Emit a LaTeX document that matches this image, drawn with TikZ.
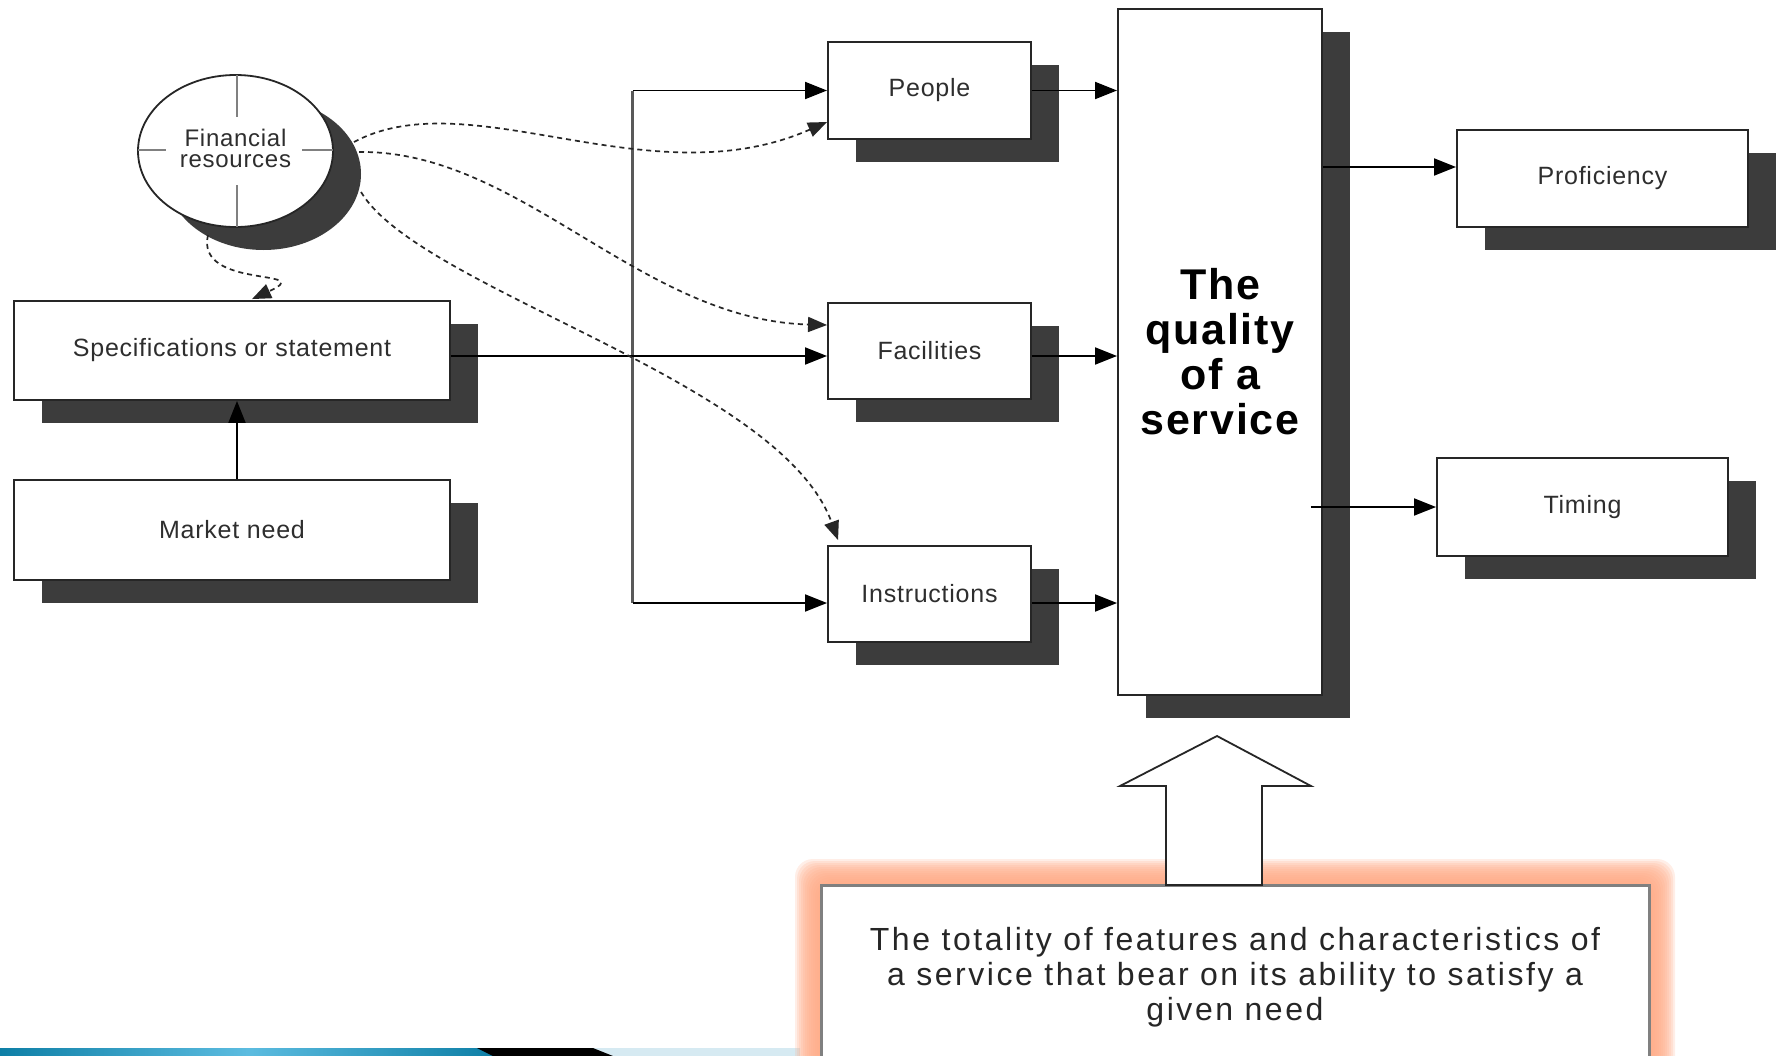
\documentclass[tikz,border=0pt]{standalone}
\usepackage{fontspec}
\setmainfont{Liberation Sans}
\newfontfamily\lblfont[LetterSpace=3]{Liberation Sans}
\newfontfamily\bigfont[LetterSpace=4]{Liberation Sans}
\newfontfamily\notefont[LetterSpace=8]{Liberation Sans}
\usetikzlibrary{arrows.meta,shapes.geometric,shadows,calc}
\definecolor{shd}{HTML}{3C3C3C}
\definecolor{txt}{HTML}{2E2E2E}
\definecolor{glow}{RGB}{255,172,135}
\definecolor{tealA}{HTML}{0E7FA6}
\definecolor{tealB}{HTML}{5CBCE0}
\definecolor{pale}{RGB}{214,234,242}
\tikzset{
  sbox/.style={draw=black!85, line width=1.9pt, fill=white, rectangle, inner sep=0pt,
    align=center, text=txt, font=\lblfont\fontsize{25}{28}\selectfont,
    general shadow={shadow xshift=28pt, shadow yshift=-23pt, fill=shd}},
  arr/.style={-{Triangle[length=22pt,width=17pt]}, line width=1.9pt, draw=black},
  darr/.style={-{Triangle[length=19pt,width=15pt]}, line width=1.7pt, draw=black!85,
    dash pattern=on 5pt off 4pt},
  cross/.style={draw=black!50, line width=1.3pt}
}
\begin{document}
\begin{tikzpicture}[x=1pt,y=-1pt]
\useasboundingbox (0,0) rectangle (1783,1055);
\clip (0,0) rectangle (1783,1055);
\fill[white] (0,0) rectangle (1783,1055);

% footer strip
\shade[left color=tealA, right color=tealA, middle color=tealB] (0,1048) rectangle (495,1056);
\fill[pale] (593,1048) -- (800,1048) -- (800,1056) -- (613,1056) -- cycle;
\fill[black] (477,1048) -- (593,1048) -- (613,1056) -- (493,1056) -- cycle;

% glow and bottom box
\foreach \i in {1,...,13} {
  \fill[glow, opacity=0.2, rounded corners=18pt] ({821-2*\i},{885-2*\i}) rectangle ({1649+2*\i},1120);
}
\node[draw=black!50, line width=3pt, fill=white, minimum width=828pt, minimum height=235pt, inner sep=0pt] (note) at (1235,1002.5) {};
\node[align=center, text=black!85, font=\notefont\fontsize{32}{35}\selectfont] (notetxt) at (1235,977)
  {The totality of features and characteristics of\\a service that bear on its ability to satisfy a\\given need};

% hollow block arrow
\draw[line width=1.8pt, draw=black!85, fill=white] (1217,736) -- (1311,786) -- (1262,786) -- (1262,885)
  -- (1166,885) -- (1166,786) -- (1120,786) -- cycle;

% nodes
\node[ellipse, draw=black!85, line width=1.8pt, fill=white, minimum width=195pt, minimum height=152pt,
  inner sep=0pt, general shadow={shadow xshift=28pt, shadow yshift=-23pt, fill=shd}] (fin) at (235.5,151) {};
\draw[cross] (237,75) -- (237,117);
\draw[cross] (237,185) -- (237,227);
\draw[cross] (138,150) -- (166,150);
\draw[cross] (302,150) -- (333,150);
\node[align=center, text=txt, font=\lblfont\fontsize{24}{21}\selectfont] (fintxt) at (235.5,148) {Financial\\resources};

\node[sbox, minimum width=436pt, minimum height=99pt] (spec) at (232,350.5) {Specifications or statement};
\node[sbox, minimum width=436pt, minimum height=100pt] (market) at (232,530) {Market need};
\node[sbox, minimum width=203pt, minimum height=97pt] (people) at (929.5,90.5) {People};
\node[sbox, minimum width=203pt, minimum height=96pt] (fac) at (929.5,351) {Facilities};
\node[sbox, minimum width=203pt, minimum height=96pt] (inst) at (929.5,594) {Instructions};
\node[sbox, minimum width=204pt, minimum height=686pt, text=black,
  font=\bigfont\bfseries\fontsize{43}{45}\selectfont] (main) at (1220,352) {The\\quality\\of a\\service};
\node[sbox, minimum width=291pt, minimum height=97pt] (prof) at (1602.5,178.5) {Proficiency};
\node[sbox, minimum width=291pt, minimum height=98pt] (timing) at (1582.5,507) {Timing};

% solid connectors
\draw[arr] ([xshift=5pt]market.north) -- ([xshift=5pt]spec.south);
\coordinate (specout) at ($(spec.east)+(0,5.5)$);
\coordinate (facin) at ($(fac.west)+(0,5)$);
\coordinate (facout) at ($(fac.east)+(0,5)$);
\coordinate (instin) at ($(inst.west)+(0,9)$);
\coordinate (instout) at ($(inst.east)+(0,9)$);
\coordinate (bus) at ($(specout)+(182,0)$);
\draw[line width=3pt, draw=black!65] (bus |- people.west) -- (bus |- instin);
\draw[arr] (specout) -- (facin);
\draw[arr] (bus |- people.west) -- (people.west);
\draw[arr] (bus |- instin) -- (instin);
\draw[arr] (people.east) -- (people.east -| main.west);
\draw[arr] (facout) -- (facout -| main.west);
\draw[arr] (instout) -- (instout -| main.west);
\coordinate (profin) at ($(prof.west)+(0,-11.5)$);
\draw[arr] (main.east |- profin) -- (profin);
\coordinate (timout) at ($(main.east |- timing.west)+(-12,0)$);
\draw[arr] (timout) -- (timing.west);

% dashed connectors from financial resources
\coordinate (f0) at (208,235);
\coordinate (f1) at (354,142);
\coordinate (f2) at (359,152);
\coordinate (f3) at (361,192);
\draw[darr] (f0) .. controls (195,290) and (320,268) .. ($(spec.north)+(20,-1)$);
\draw[darr] (f1) .. controls (470,80) and (650,200) .. ($(people.west)+(0,31.5)$);
\draw[darr] (f2) .. controls (520,150) and (640,320) .. ($(fac.west)+(0,-26)$);
\draw[darr] (f3) .. controls (420,290) and (780,380) .. ($(inst.north west)+(11,-5)$);
\end{tikzpicture}
\end{document}
